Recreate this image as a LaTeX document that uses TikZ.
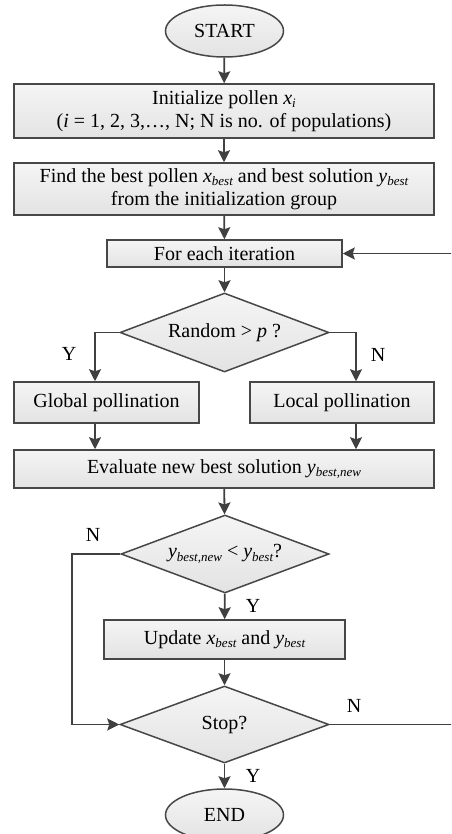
\documentclass[tikz,border=0pt]{standalone}
\usepackage{fontspec}
\setmainfont{Liberation Serif}
\usetikzlibrary{shapes.geometric,arrows.meta,calc}
\newcommand{\mysub}[1]{\raisebox{-0.18em}{\fontsize{13}{13}\selectfont\itshape #1}}
\begin{document}
\begin{tikzpicture}[x=1pt,y=-1pt,
  font=\fontsize{20}{22}\selectfont,
  shade/.style={top color=black!4, bottom color=black!11},
  procbox/.style={draw=black!72, line width=1.5pt, shade, rectangle, inner sep=0pt, align=center},
  decbox/.style={draw=black!72, line width=1.5pt, shade, diamond, inner sep=0pt, aspect=2.65},
  termbox/.style={draw=black!72, line width=1.5pt, shade, ellipse, inner sep=0pt, minimum width=118pt, minimum height=52pt},
  arr/.style={draw=black!75, line width=1.8pt, -{Stealth[length=12pt,width=12pt,inset=2pt]}},
  lbl/.style={inner sep=0pt}]
\useasboundingbox (0,0) rectangle (451,834);
\clip (0,0) rectangle (451,834);

\node[termbox] (start) at (224.5,31) {START};
\node[procbox, minimum width=420pt, minimum height=54pt] (init) at (224,111)
  {Initialize pollen \textit{x}\mysub{i}\\[1pt] (\textit{i} = 1, 2, 3,…, N; N is no. of populations)};
\node[procbox, minimum width=420pt, minimum height=52pt] (find) at (224,189)
  {Find the best pollen \textit{x}\mysub{best} and best solution \textit{y}\mysub{best}\\[1pt] from the initialization group};
\node[procbox, minimum width=235pt, minimum height=27pt] (iter) at (224.5,253.5) {For each iteration};
\node[decbox, minimum width=209pt, minimum height=79pt] (dia1) at (224.5,332.5) {Random > \textit{p} ?};
\node[procbox, minimum width=185pt, minimum height=41pt] (global) at (106.5,402.5) {Global pollination};
\node[procbox, minimum width=184pt, minimum height=41pt] (local) at (342,402.5) {Local pollination};
\node[procbox, minimum width=420pt, minimum height=38pt] (eval) at (224,469)
  {Evaluate new best solution \textit{y}\mysub{best,new}};
\node[decbox, minimum width=208pt, minimum height=78pt] (dia2) at (225,554)
  {\textit{y}\mysub{best,new} < \textit{y}\mysub{best}?};
\node[procbox, minimum width=241pt, minimum height=39pt] (update) at (224.5,639.5)
  {Update \textit{x}\mysub{best} and \textit{y}\mysub{best}};
\node[decbox, minimum width=209pt, minimum height=77pt] (stop) at (224.5,724.5) {Stop?};
\node[termbox] (end) at (224.5,815) {END};

\node[lbl] (y1) at (69,354) {Y};
\node[lbl] (n1) at (378,355) {N};
\node[lbl] (n2) at (93,535) {N};
\node[lbl] (y2) at (253,606) {Y};
\node[lbl] (n3) at (354,706) {N};
\node[lbl] (y3) at (253,776) {Y};

\draw[arr] (start) -- (init);
\draw[arr] (init) -- (find);
\draw[arr] (find) -- (iter);
\draw[arr] (iter) -- (dia1);
\draw[arr] (dia1.west) -| ([xshift=-11.5pt]global.north);
\draw[arr] (dia1.east) -| ([xshift=14pt]local.north);
\draw[arr] ([xshift=-11.5pt]global.south) -- ([xshift=-11.5pt]global.south |- eval.north);
\draw[arr] ([xshift=14pt]local.south) -- ([xshift=14pt]local.south |- eval.north);
\draw[arr] (eval) -- (dia2);
\draw[arr] (dia2) -- (update);
\draw[arr] (update) -- (stop);
\draw[arr] (stop) -- (end);
\draw[arr] (dia2.west) -- ++(-48,0) |- (stop.west);
\draw[arr] (stop.east) -- ++(130,0) |- (iter.east);
\end{tikzpicture}
\end{document}
